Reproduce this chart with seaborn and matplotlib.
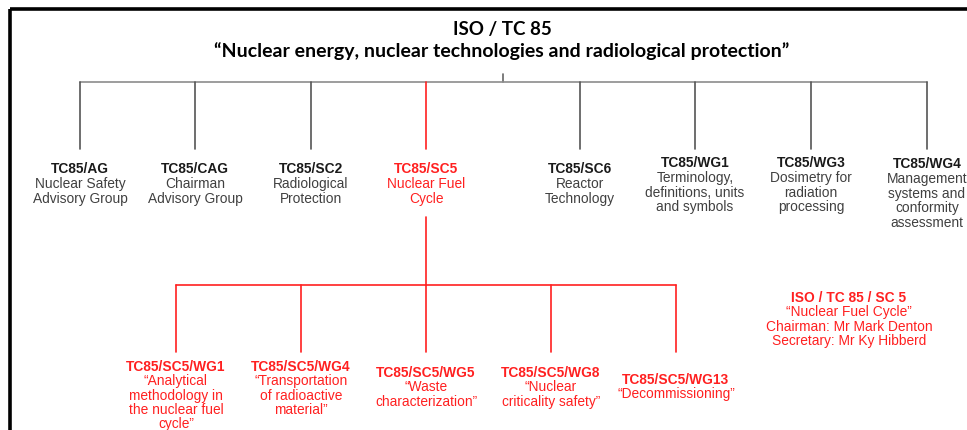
import matplotlib
matplotlib.use("Agg")
import matplotlib.pyplot as plt
import seaborn as sns

# =========================================================
# CHART CONTENT
# =========================================================
title = "ISO / TC 85"
subtitle = "\u201cNuclear energy, nuclear technologies and radiological protection\u201d"

top_codes = ["TC85/AG", "TC85/CAG", "TC85/SC2", "TC85/SC5",
             "TC85/SC6", "TC85/WG1", "TC85/WG3", "TC85/WG4"]
top_names = ["Nuclear Safety\nAdvisory Group",
             "Chairman\nAdvisory Group",
             "Radiological\nProtection",
             "Nuclear Fuel\nCycle",
             "Reactor\nTechnology",
             "Terminology,\ndefinitions, units\nand symbols",
             "Dosimetry for\nradiation\nprocessing",
             "Management\nsystems and\nconformity\nassessment"]
top_highlight = "TC85/SC5"

sub_codes = ["TC85/SC5/WG1", "TC85/SC5/WG4", "TC85/SC5/WG5",
             "TC85/SC5/WG8", "TC85/SC5/WG13"]
sub_names = ["\u201cAnalytical\nmethodology in\nthe nuclear fuel\ncycle\u201d",
             "\u201cTransportation\nof radioactive\nmaterial\u201d",
             "\u201cWaste\ncharacterization\u201d",
             "\u201cNuclear\ncriticality safety\u201d",
             "\u201cDecommissioning\u201d"]

info_head = "ISO / TC 85 / SC 5"
info_lines = ["\u201cNuclear Fuel Cycle\u201d",
              "Chairman: Mr Mark Denton",
              "Secretary: Mr Ky Hibberd"]

# =========================================================
# LAYOUT (pixel coordinates, y pointing down)
# =========================================================
top_x = [80, 195, 311, 426, 580, 695, 811, 927]
top_y = [169, 169, 169, 169, 169, 163, 163, 164]
sub_x = [176, 301, 426, 551, 676]
sub_y = [367, 367, 373, 373, 380]
LINE_H = 14.8
FS = 9.9

RED = "#ff2020"
GREY = "#8c8c8c"
DARK = "#1a1a1a"
TXT = "#404040"

sns.set_theme(style="white")
plt.rcParams["font.family"] = ["Liberation Sans", "DejaVu Sans"]

fig = plt.figure(figsize=(9.67, 4.31), dpi=100)
ax = fig.add_axes([0, 0, 1, 1])
ax.set_xlim(0, 967)
ax.set_ylim(431, 0)
ax.axis("off")

# frame (top + left edge)
ax.plot([9.5, 967], [10, 10], color="black", lw=2.6, solid_capstyle="butt")
ax.plot([9.5, 9.5], [10, 431], color="black", lw=2.6, solid_capstyle="butt")

# titles
tfont = ["Lato", "DejaVu Sans"]
ax.text(502, 29, title, ha="center", va="center", fontsize=13.5,
        fontweight="bold", family=tfont, color="black")
ax.text(502, 51, subtitle, ha="center", va="center", fontsize=14,
        fontweight="bold", family=tfont, color="black")

# top-level tree
bar_y = 83
ax.plot([503, 503], [75, bar_y], color="#666666", lw=1.2)
ax.plot([min(top_x), max(top_x)], [bar_y, bar_y], color=GREY, lw=1.2)
for x, code in zip(top_x, top_codes):
    c = RED if code == top_highlight else "#555555"
    ax.plot([x, x], [bar_y, 150], color=c, lw=1.2)

for x, y, code, name in zip(top_x, top_y, top_codes, top_names):
    red = code == top_highlight
    ax.text(x, y, code, ha="center", va="center", fontsize=FS,
            fontweight="bold", color=RED if red else DARK)
    for i, line in enumerate(name.split("\n")):
        ax.text(x, y + LINE_H * (i + 1), line, ha="center", va="center",
                fontsize=FS, color=RED if red else TXT)

# SC5 sub-tree
sc5_x = top_x[top_codes.index(top_highlight)]
sub_bar = 286
ax.plot([sc5_x, sc5_x], [218, sub_bar], color=RED, lw=1.2)
ax.plot([min(sub_x), max(sub_x)], [sub_bar, sub_bar], color=RED, lw=1.2)
for x in sub_x:
    ax.plot([x, x], [sub_bar, 353], color=RED, lw=1.2)

for x, y, code, name in zip(sub_x, sub_y, sub_codes, sub_names):
    ax.text(x, y, code, ha="center", va="center", fontsize=FS,
            fontweight="bold", color=RED)
    for i, line in enumerate(name.split("\n")):
        ax.text(x, y + 14.3 * (i + 1), line, ha="center", va="center",
                fontsize=FS, color=RED)

# info block
ax.text(849, 298, info_head, ha="center", va="center", fontsize=FS,
        fontweight="bold", color=RED)
for i, line in enumerate(info_lines):
    ax.text(849, 298 + 14.3 * (i + 1), line, ha="center", va="center",
            fontsize=FS, color=RED)

fig.savefig("out.png", dpi=100, facecolor="white")
